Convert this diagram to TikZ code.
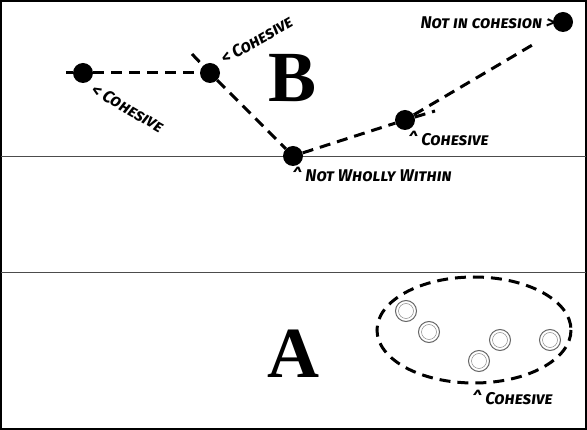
\documentclass[tikz,border=0pt]{standalone}
\usepackage{fontspec}
\newfontfamily\hand[Letters=SmallCaps]{Fira Sans}
\newfontfamily\bigfont{Liberation Serif}
\begin{document}
\begin{tikzpicture}[x=1pt,y=-1pt,
  blk/.style={circle,fill=black,minimum size=20pt,inner sep=0pt},
  wht/.style={circle,draw=black!60,line width=1pt,fill=white,minimum size=21pt,inner sep=0pt,
     path picture={\draw[black!45,line width=0.5pt] (path picture bounding box.center) circle (7.5pt);}},
  dashline/.style={line width=3pt,dash pattern=on 11pt off 7pt},
  lbl/.style={font=\hand\bfseries\itshape\fontsize{17}{17}\selectfont,inner sep=0pt},
  bigletter/.style={font=\bigfont\bfseries\fontsize{72}{72}\selectfont,inner sep=0pt}]
\useasboundingbox (0,0) rectangle (587,430);
\draw[line width=2pt] (1,1) rectangle (586,429);
\draw[black!70,line width=1pt] (1,157) -- (586,157);
\draw[black!70,line width=1pt] (1,273) -- (586,273);
% region B
\node[blk] (n1) at (83,73) {};
\node[blk] (n2) at (210,73) {};
\node[blk] (n3) at (293,156) {};
\node[blk] (n4) at (405,120) {};
\node[blk] (n5) at (563,22) {};
\coordinate (c0) at (66,73);
\coordinate (c1) at (192,54);
\coordinate (c2) at (435,111);
\coordinate (c3) at (534,44);
\draw[dashline] (c0) -- (n1);
\draw[dashline] (n1) -- (n2);
\draw[dashline] (c1) -- (n2);
\draw[dashline] (n2) -- (n3);
\draw[dashline] (n3) -- (n4);
\draw[dashline] (n4) -- (c2);
\draw[dashline] (n4) -- (c3);
\node[bigletter] (B) at (293,78) {B};
\node[lbl,anchor=west,rotate=-30] (l1) at (93,88) {< Cohesive};
\node[lbl,anchor=west,rotate=30] (l2) at (222,60) {< Cohesive};
\node[lbl,anchor=west] (l3) at (408,138) {\^{} Cohesive};
\node[lbl,anchor=west] (l4) at (292,174) {\^{} Not Wholly Within};
\node[lbl,anchor=east] (l5) at (555,23) {Not in cohesion >};
% region A
\node[bigletter] (A) at (293,354) {A};
\draw[dashline] (474,330) ellipse (97 and 53);
\node[wht] (w1) at (406,311) {};
\node[wht] (w2) at (429,332) {};
\node[wht] (w3) at (500,340) {};
\node[wht] (w4) at (479,361) {};
\node[wht] (w5) at (550,340) {};
\node[lbl,anchor=west] (l6) at (472,397) {\^{} Cohesive};
\end{tikzpicture}
\end{document}
